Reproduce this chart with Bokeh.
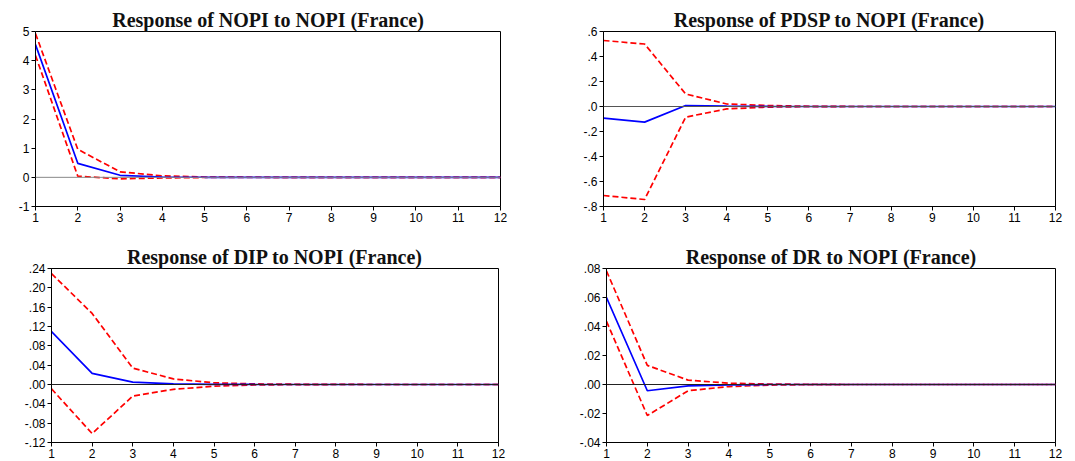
from bokeh.plotting import figure
from bokeh.layouts import column, row
from bokeh.models import Span, FixedTicker, Range1d
from bokeh.embed import file_html
from bokeh.resources import INLINE

periods = list(range(1, 13))
x_ticks = list(range(1, 13))

# Response of NOPI to NOPI
nopi_resp = [4.55, 0.48, 0.07, 0.012, 0.002, 0.0, 0.0, 0.0, 0.0, 0.0, 0.0, 0.0]
nopi_upper = [4.93, 0.96, 0.19, 0.05, 0.012, 0.003, 0.001, 0.0, 0.0, 0.0, 0.0, 0.0]
nopi_lower = [4.18, 0.04, -0.05, -0.02, -0.005, -0.001, 0.0, 0.0, 0.0, 0.0, 0.0, 0.0]
nopi_yticks = [-1, 0, 1, 2, 3, 4, 5]
nopi_ylabels = ["-1", "0", "1", "2", "3", "4", "5"]

# Response of PDSP to NOPI
pdsp_resp = [-0.093, -0.125, 0.008, 0.003, 0.001, 0.0, 0.0, 0.0, 0.0, 0.0, 0.0, 0.0]
pdsp_upper = [0.528, 0.50, 0.10, 0.02, 0.008, 0.002, 0.0, 0.0, 0.0, 0.0, 0.0, 0.0]
pdsp_lower = [-0.712, -0.744, -0.085, -0.019, -0.005, -0.001, 0.0, 0.0, 0.0, 0.0, 0.0, 0.0]
pdsp_yticks = [-0.8, -0.6, -0.4, -0.2, 0.0, 0.2, 0.4, 0.6]
pdsp_ylabels = ["-.8", "-.6", "-.4", "-.2", ".0", ".2", ".4", ".6"]

# Response of DIP to NOPI
dip_resp = [0.1096, 0.023, 0.005, 0.0013, 0.0003, 0.0001, 0.0, 0.0, 0.0, 0.0, 0.0, 0.0]
dip_upper = [0.2295, 0.147, 0.034, 0.0115, 0.0035, 0.0012, 0.0005, 0.0002, 0.0, 0.0, 0.0, 0.0]
dip_lower = [-0.009, -0.1015, -0.024, -0.010, -0.0035, -0.001, -0.0003, 0.0, 0.0, 0.0, 0.0, 0.0]
dip_yticks = [-0.12, -0.08, -0.04, 0.0, 0.04, 0.08, 0.12, 0.16, 0.20, 0.24]
dip_ylabels = ["-.12", "-.08", "-.04", ".00", ".04", ".08", ".12", ".16", ".20", ".24"]

# Response of DR to NOPI
dr_resp = [0.0599, -0.0043, -0.0009, -0.0002, 0.0, 0.0, 0.0, 0.0, 0.0, 0.0, 0.0, 0.0]
dr_upper = [0.0783, 0.0132, 0.003, 0.0009, 0.0003, 0.0001, 0.0, 0.0, 0.0, 0.0, 0.0, 0.0]
dr_lower = [0.0435, -0.0214, -0.0043, -0.0014, -0.0004, -0.0001, 0.0, 0.0, 0.0, 0.0, 0.0, 0.0]
dr_yticks = [-0.04, -0.02, 0.0, 0.02, 0.04, 0.06, 0.08]
dr_ylabels = ["-.04", "-.02", ".00", ".02", ".04", ".06", ".08"]


def panel(title, resp, upper, lower, yticks, ylabels, ymin, ymax,
          fw, fh, bl, br, bt, bb, zero_color):
    p = figure(frame_width=fw, frame_height=fh, min_border_left=bl,
               min_border_right=br, min_border_top=bt, min_border_bottom=bb,
               x_range=Range1d(1, 12), y_range=Range1d(ymin, ymax),
               output_backend="svg", toolbar_location=None, title=title)
    p.title.align = "center"
    p.title.text_font = "Liberation Serif"
    p.title.text_font_size = "20px"
    p.title.text_font_style = "bold"
    p.title.text_color = "#111111"
    p.title.standoff = 2
    p.xgrid.visible = False
    p.ygrid.visible = False
    p.outline_line_color = "black"
    p.outline_line_width = 1
    p.background_fill_color = "white"
    p.border_fill_color = "white"

    p.xaxis.ticker = FixedTicker(ticks=x_ticks)
    p.yaxis.ticker = FixedTicker(ticks=yticks)
    p.yaxis.major_label_overrides = {v: s for v, s in zip(yticks, ylabels)}
    for ax in (p.xaxis, p.yaxis):
        ax.major_label_text_font = "Liberation Sans"
        ax.major_label_text_font_size = "12px"
        ax.major_label_text_color = "black"
        ax.axis_line_color = "black"
        ax.major_tick_line_color = "black"
        ax.major_tick_in = 0
        ax.major_tick_out = 4
        ax.minor_tick_line_color = None
        ax.major_label_standoff = 2

    p.add_layout(Span(location=0, dimension="width", line_color=zero_color, line_width=1))
    p.line(periods, upper, line_color="red", line_width=1.7, line_dash="6 3")
    p.line(periods, lower, line_color="red", line_width=1.7, line_dash="6 3")
    p.line(periods, resp, line_color="blue", line_width=1.7)
    return p


p1 = panel("Response of NOPI to NOPI (France)", nopi_resp, nopi_upper, nopi_lower,
           nopi_yticks, nopi_ylabels, -1, 5, 465, 175, 35, 40, 31, 24, "#888888")
p2 = panel("Response of PDSP to NOPI (France)", pdsp_resp, pdsp_upper, pdsp_lower,
           pdsp_yticks, pdsp_ylabels, -0.8, 0.6, 452, 175, 63, 20, 31, 24, "#555555")
p3 = panel("Response of DIP to NOPI (France)", dip_resp, dip_upper, dip_lower,
           dip_yticks, dip_ylabels, -0.12, 0.24, 447, 174, 51, 42, 38, 19, "#222222")
p4 = panel("Response of DR to NOPI (France)", dr_resp, dr_upper, dr_lower,
           dr_yticks, dr_ylabels, -0.04, 0.08, 449, 174, 66, 20, 38, 19, "#222222")

layout = column(row(p1, p2), row(p3, p4))
open("out.html", "w").write(file_html(layout, INLINE))
